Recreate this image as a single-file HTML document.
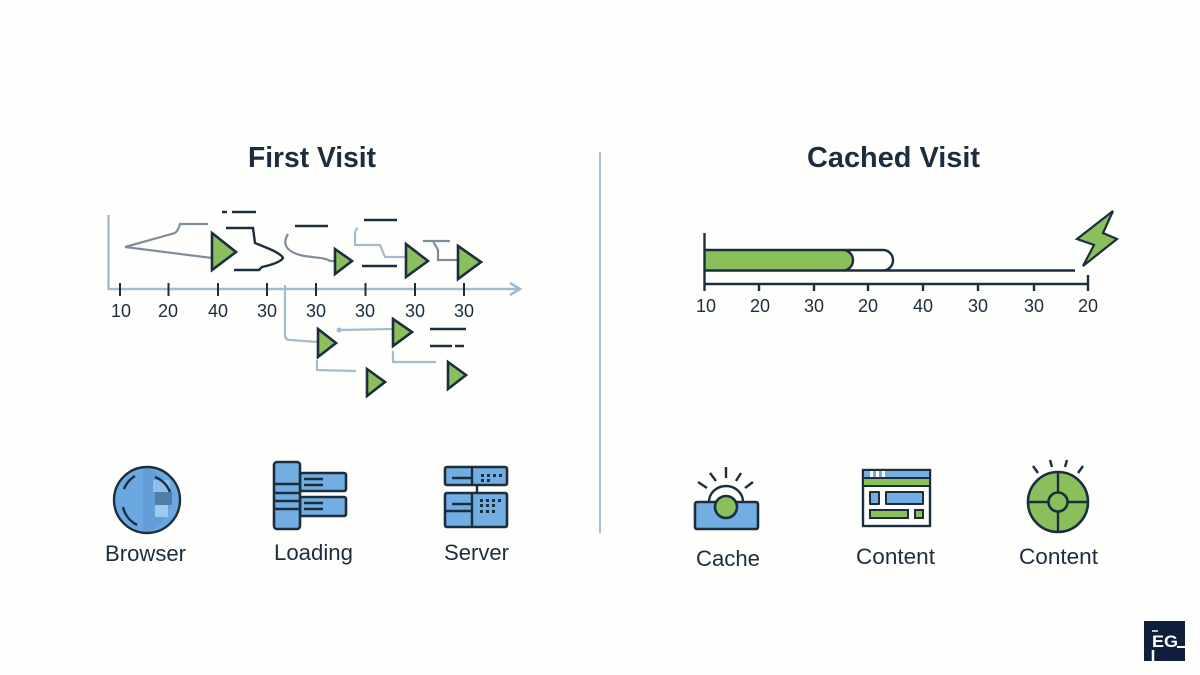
<!DOCTYPE html>
<html><head><meta charset="utf-8"><style>
html,body{margin:0;padding:0;background:#fefefd}
svg{display:block}
text{font-family:"Liberation Sans",sans-serif;fill:#1c2e3e}
.n{font-size:18px;text-anchor:middle}
.l{font-size:22px}
.t{font-size:29px;font-weight:bold}
.d{stroke:#1c2e3e;stroke-width:2.4;fill:none}
.g{stroke:#7f8d98;stroke-width:2.2;fill:none}
.b{stroke:#a3bccd;stroke-width:2.2;fill:none}
.tr{fill:#8bbf5c;stroke:#1c2e3e;stroke-width:2.6;stroke-linejoin:miter}
.ic{fill:#72aee2;stroke:#1c2e3e;stroke-width:2.6;stroke-linejoin:round}
</style></head><body>
<svg width="1200" height="675" viewBox="0 0 1200 675" xmlns="http://www.w3.org/2000/svg">
<rect width="1200" height="675" fill="#fefefd"/>
<text class="t" x="248" y="167" textLength="128" lengthAdjust="spacingAndGlyphs">First Visit</text>
<text class="t" x="807" y="167" textLength="173" lengthAdjust="spacingAndGlyphs">Cached Visit</text>
<line x1="600" y1="152" x2="600" y2="533" stroke="#a9c0d0" stroke-width="2"/>

<!-- left axis -->
<path d="M108.500 215V289H519" stroke="#a3bccd" stroke-width="2.400" fill="none"/>
<path d="M510 283L520 289L510 295" stroke="#92b8d6" stroke-width="2.400" fill="none"/>
<path class="d" style="stroke-width:2" d="M120 283V296M168.500 283V296M218 283V296M267 283V296M316 283V296M365.500 283V296M415 283V296M464 283V296"/>
<g class="n">
<text class="n" x="121" y="317">10</text><text class="n" x="168" y="317">20</text><text class="n" x="218" y="317">40</text><text class="n" x="267" y="317">30</text>
<text class="n" x="316" y="317">30</text><text class="n" x="365" y="317">30</text><text class="n" x="415" y="317">30</text><text class="n" x="464" y="317">30</text>
</g>

<!-- left flow -->
<path class="g" d="M125 247L175 233Q178 231 180 224H208M125 247L212 258"/>
<path class="d" d="M222 212H227M232 212H256M226 228H253L255 243L272 250Q282 255 283 258Q280 263 262 267L259 270H234M295 226H328M364 220H397M362 266H397M430 329H466M430 346H452M455 346H464"/>
<path class="g" d="M288 234C282 244 286 251 300 255C312 258 325 257 330 261H335"/>
<path class="g" d="M423 241H450M433 241L438 250V260H458"/>
<path class="b" d="M358 228Q355 229 355 234V245H380L385 257H406M285 285V335Q285 340 290 340L318 342M317 360V370L356 371M339 330L392 329M393 351V362H436"/>
<circle cx="339" cy="330" r="2.500" fill="#a3bccd"/>
<polygon class="tr" points="212,233 236,252 212,270"/>
<polygon class="tr" points="335,249 352,261 335,274"/>
<polygon class="tr" points="406,244 428,261 406,277"/>
<polygon class="tr" points="458,246 481,262 458,279"/>
<polygon class="tr" points="318,329 336,343 318,357"/>
<polygon class="tr" points="367,369 385,382 367,396"/>
<polygon class="tr" points="393,319 412,332 393,346"/>
<polygon class="tr" points="448,362 466,375 448,389"/>

<!-- right chart -->
<path d="M705 250H843A10 10.250 0 0 1 843 270.500H705Z" fill="#8bbf5c"/>
<path class="d" d="M704.500 233V291M704 250H883A10 10.250 0 0 1 883 270.500M704 270.500H1075M704 284H1088M1088 275V291M759 284V291M814 284V291M868 284V291M923 284V291M978 284V291M1034 284V291M843 250A10 10.250 0 0 1 843 270.500"/>
<polygon class="tr" points="1113,211 1077,239 1094,245 1083,266 1117,239 1103,233" style="stroke-width:2.200"/>
<text class="n" x="706" y="312">10</text><text class="n" x="760" y="312">20</text><text class="n" x="814" y="312">30</text><text class="n" x="868" y="312">20</text><text class="n" x="923" y="312">40</text><text class="n" x="978" y="312">30</text><text class="n" x="1034" y="312">30</text><text class="n" x="1088" y="312">20</text>

<!-- Browser -->
<circle cx="147" cy="500" r="33" fill="#6ba8df"/>
<path d="M143 467.500A33 33 0 0 1 143 532.500Z" fill="#639fd6"/>
<rect x="153" y="480" width="17" height="12" fill="#8fc0ec"/>
<rect x="155" y="492" width="17" height="13" fill="#4f7fa8"/>
<rect x="155" y="505" width="13" height="12" fill="#9fcaf0"/>
<circle cx="147" cy="500" r="33" fill="none" stroke="#1c2e3e" stroke-width="2.400"/>
<path d="M135 476A27 27 0 0 0 124 489M123 507A27 27 0 0 0 137 525M155 477A27 27 0 0 1 170 492" stroke="#1c2e3e" stroke-width="2.400" fill="none"/>
<text class="l" x="105" y="561" textLength="81" lengthAdjust="spacingAndGlyphs">Browser</text>

<!-- Loading -->
<rect class="ic" x="300" y="473" width="46" height="18" rx="2"/>
<rect class="ic" x="300" y="497" width="46" height="19" rx="2"/>
<rect class="ic" x="274" y="462" width="26" height="67" rx="3"/>
<path class="d" d="M274 484H300M274 493H300M274 501H300M274 509H300M304 479H323M304 485H323M304 503H323M304 509H323"/>
<text class="l" x="274" y="560" textLength="79" lengthAdjust="spacingAndGlyphs">Loading</text>

<!-- Server -->
<rect class="ic" x="445" y="467" width="62" height="18" rx="2"/>
<rect class="ic" x="445" y="493" width="62" height="34" rx="2"/>
<path class="d" d="M477 485V493M472 467V485M472 493V527M445 511H472M452 478H472M452 504H472"/>
<path d="M481 474h3v3h-3zM487 474h3v3h-3zM493 474h3v3h-3zM499 474h3v3h-3zM481 479h3v3h-3zM487 479h3v3h-3zM480 499h3v3h-3zM486 499h3v3h-3zM492 499h3v3h-3zM498 499h3v3h-3zM480 504h3v3h-3zM486 504h3v3h-3zM492 504h3v3h-3zM480 510h3v3h-3zM486 510h3v3h-3zM492 510h3v3h-3z" fill="#1c2e3e"/>
<text class="l" x="444" y="560" textLength="65" lengthAdjust="spacingAndGlyphs">Server</text>

<!-- Cache -->
<rect class="ic" x="695" y="502" width="63" height="27" rx="2"/>
<path class="d" d="M709 502A17 16 0 0 1 743 502"/>
<circle cx="726" cy="507" r="11" fill="#8bbf5c" stroke="#1c2e3e" stroke-width="2.600"/>
<path class="d" d="M726 467V478M710 473L716 481M741 473L736 481M698 482L707 488M753 482L745 488"/>
<text class="l" x="696" y="566" textLength="64" lengthAdjust="spacingAndGlyphs">Cache</text>

<!-- Content window -->
<rect x="863" y="470" width="67" height="56" fill="#fff" stroke="#1c2e3e" stroke-width="2.400"/>
<rect x="864" y="471" width="65" height="7" fill="#72aee2"/>
<rect x="864" y="479" width="65" height="7" fill="#8bbf5c"/>
<path class="d" style="stroke-width:2" d="M863 478H930M863 486H930"/>
<path d="M870 471h3v6h-3zM876 471h3v6h-3zM882 471h3v6h-3z" fill="#fff"/>
<rect class="ic" style="stroke-width:2" x="870" y="492" width="9" height="12"/>
<rect class="ic" style="stroke-width:2" x="886" y="492" width="37" height="12"/>
<rect class="tr" style="stroke-width:2" x="870" y="510" width="38" height="8"/>
<rect class="tr" style="stroke-width:2" x="915" y="510" width="8" height="8"/>
<text class="l" x="856" y="564" textLength="79" lengthAdjust="spacingAndGlyphs">Content</text>

<!-- Content target -->
<circle cx="1058" cy="502" r="30" fill="#8bbf5c" stroke="#1c2e3e" stroke-width="2.600"/>
<path class="d" d="M1058 472V532M1028 502H1088"/>
<circle cx="1058" cy="502" r="9.500" fill="#8bbf5c" stroke="#1c2e3e" stroke-width="2.600"/>
<path class="d" d="M1033 466L1038 473M1050 460L1052 467M1067 460L1065 467M1083 466L1078 473"/>
<text class="l" x="1019" y="564" textLength="79" lengthAdjust="spacingAndGlyphs">Content</text>

<!-- Logo -->
<rect x="1144" y="621" width="41" height="40" fill="#0f1f3d"/>
<text x="1152" y="647" style="font-size:17px;font-weight:bold;fill:#fff" textLength="26" lengthAdjust="spacingAndGlyphs">EG</text>
<path d="M1152 631H1158" stroke="#fff" stroke-width="1.500"/>
<path d="M1153 650V661" stroke="#fff" stroke-width="2.500"/>
<path d="M1177 647H1185" stroke="#fff" stroke-width="2"/>
</svg>
</body></html>
